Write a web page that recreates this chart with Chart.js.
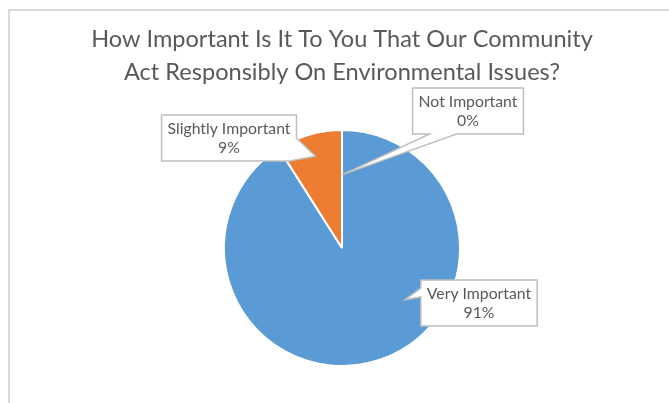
<!DOCTYPE html>
<html>
<head>
<meta charset="utf-8">
<script src="https://cdn.jsdelivr.net/npm/chart.js@4.4.1/dist/chart.umd.min.js"></script>
<style>
  html, body { margin: 0; padding: 0; background: #fff; }
</style>
</head>
<body>
<canvas id="chart" width="669" height="403"></canvas>
<script>
const titleLines = ["How Important Is It To You That Our Community", "Act Responsibly On Environmental Issues?"]
const categories = ["Very Important", "Slightly Important", "Not Important"]
const values = [91, 9, 0]
const sliceColors = ["#5B9BD5", "#ED7D31", "#A5A5A5"]

// callout boxes: box centre offset from pie centre, where on the slice the pointer lands,
// and which edge of the box the pointer leaves from (a, b = pointer base along that edge)
const callouts = [
    { dx: 137, dy: 55, tipAt: 0.395, tipR: 0.69, side: "left", a: 8, b: 17 },
    { dx: -113, dy: -110, tipAt: 0.5, tipR: 0.81, side: "corner", a: 23, b: 7 },
    { dx: 126, dy: -137, tipAt: 0, tipR: 0.62, side: "bottom", a: 17, b: 44 },
]

const fontFamily = "Lato, 'Open Sans', sans-serif"

// pick a font size so a string comes out at a given width
function fitSize(text, width, weight){
    const ctx = document.createElement("canvas").getContext("2d")
    ctx.font = `${weight} 100px ${fontFamily}`
    return 100 * width / ctx.measureText(text).width
}
const titleSize = fitSize(titleLines[0], 502, 400)
const labelSize = fitSize(categories[1], 123, 400)

const framePlugin = {
    id: "frame",
    beforeDraw(chart){
        const ctx = chart.ctx
        ctx.save()
        ctx.fillStyle = "#fff"
        ctx.fillRect(0, 0, chart.width, chart.height)
        ctx.strokeStyle = "#d9d9d9"
        ctx.lineWidth = 2
        ctx.strokeRect(9, 10, 800, 600)
        ctx.restore()
    }
}

const calloutPlugin = {
    id: "callouts",
    afterDatasetsDraw(chart){
        const ctx = chart.ctx
        const total = values.reduce((a, b) => a + b, 0)
        chart.getDatasetMeta(0).data.forEach((arc, i) => {
            const c = callouts[i]
            const lines = [categories[i], Math.round(values[i] / total * 100) + "%"]
            ctx.save()
            ctx.font = `400 ${labelSize}px ${fontFamily}`
            const w = Math.max(...lines.map(t => ctx.measureText(t).width)) + 12
            const h = 46
            const left = arc.x + c.dx - w / 2, top = arc.y + c.dy - h / 2
            const right = left + w, bottom = top + h
            const ang = arc.startAngle + (arc.endAngle - arc.startAngle) * c.tipAt
            const r = arc.outerRadius * c.tipR
            const tip = [arc.x + Math.cos(ang) * r, arc.y + Math.sin(ang) * r]

            const pts = [[left, top], [right, top]]
            if (c.side === "corner") pts.push([right, top + c.a], tip, [right - c.b, bottom])
            else pts.push([right, bottom])
            if (c.side === "bottom") pts.push([left + c.b, bottom], tip, [left + c.a, bottom])
            pts.push([left, bottom])
            if (c.side === "left") pts.push([left, top + c.b], tip, [left, top + c.a])

            ctx.beginPath()
            pts.forEach((p, k) => k ? ctx.lineTo(p[0], p[1]) : ctx.moveTo(p[0], p[1]))
            ctx.closePath()
            ctx.fillStyle = "#fff"
            ctx.fill()
            ctx.strokeStyle = "#bfbfbf"
            ctx.lineWidth = 1.5
            ctx.stroke()

            ctx.fillStyle = "#595959"
            ctx.textAlign = "center"
            ctx.textBaseline = "alphabetic"
            ctx.fillText(lines[0], left + w / 2, top + 19)
            ctx.fillText(lines[1], left + w / 2, top + 37.5)
            ctx.restore()
        })
    }
}

new Chart(document.getElementById("chart"), {
    type: "pie",
    data: {
        labels: categories,
        datasets: [{
            data: values,
            backgroundColor: sliceColors,
            borderColor: "#fff",
            borderWidth: 2,
        }]
    },
    options: {
        responsive: false,
        animation: false,
        radius: 118,
        layout: { padding: { left: 15, right: 0, top: 0, bottom: 37 } },
        plugins: {
            legend: { display: false },
            tooltip: { enabled: false },
            title: {
                display: true,
                text: titleLines,
                color: "#595959",
                font: { family: fontFamily, size: titleSize, weight: 400, lineHeight: 33 / titleSize },
                padding: { top: 23, bottom: 41 },
            },
        },
    },
    plugins: [framePlugin, calloutPlugin],
})
</script>
</body>
</html>
